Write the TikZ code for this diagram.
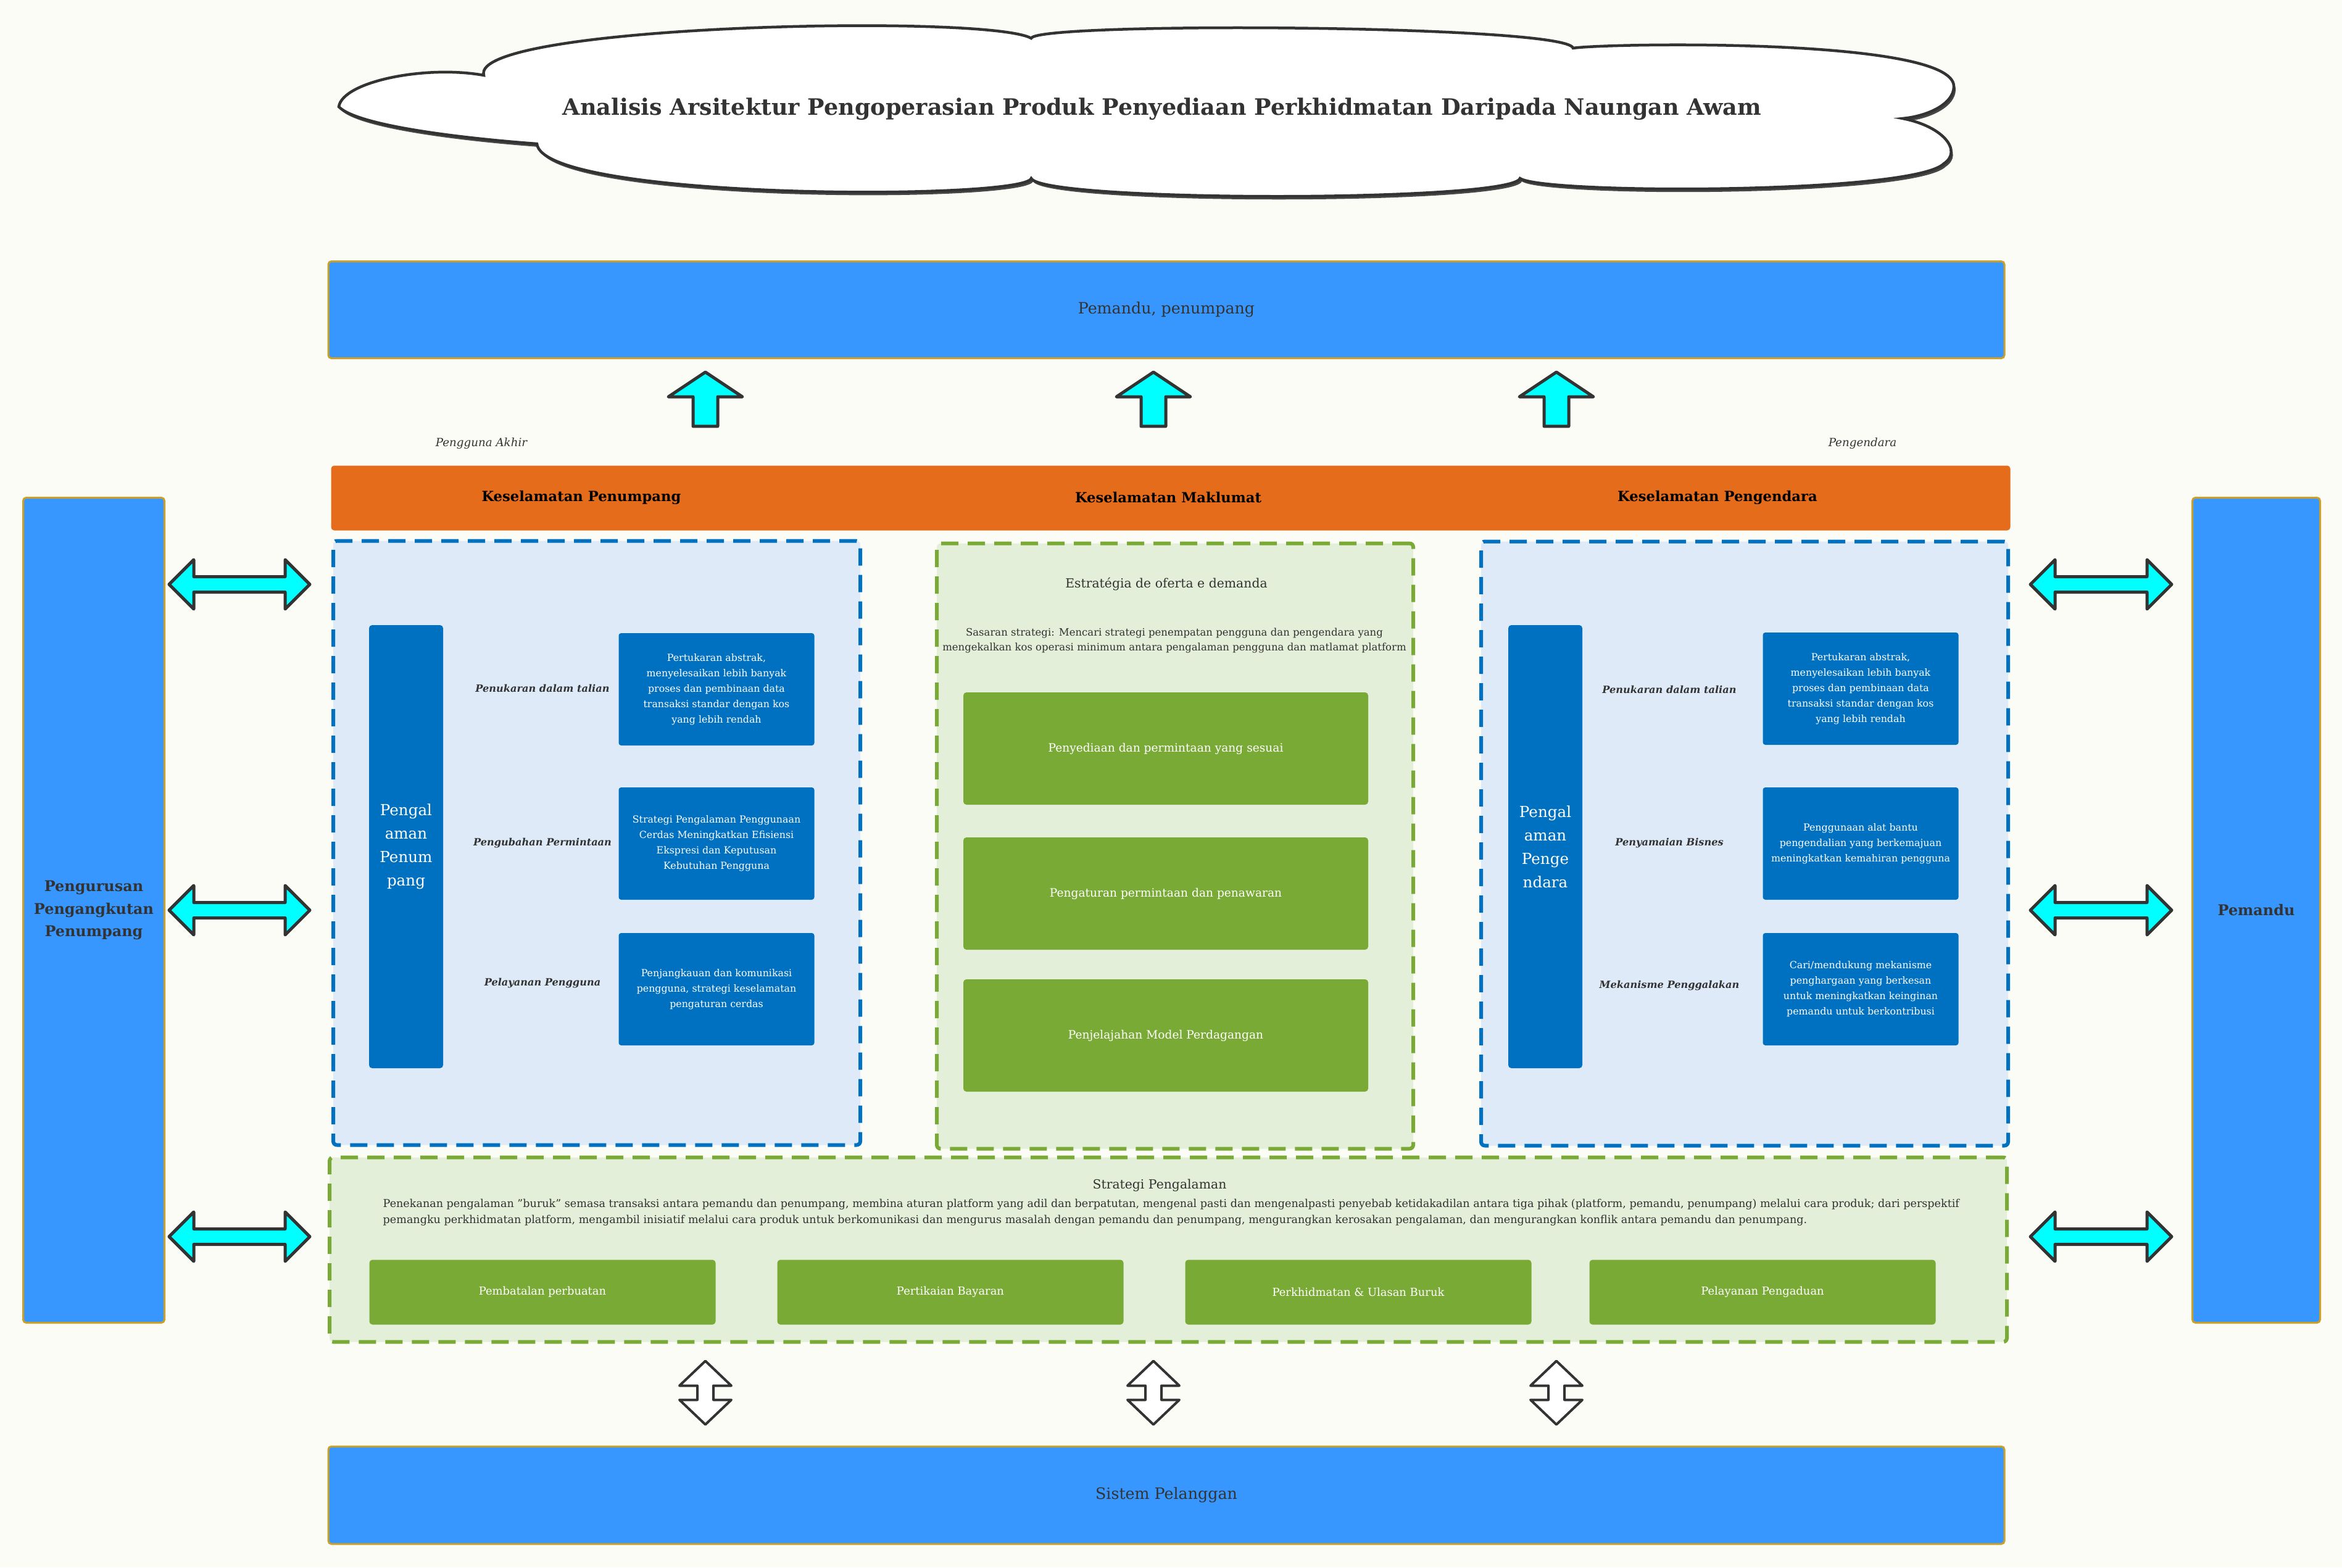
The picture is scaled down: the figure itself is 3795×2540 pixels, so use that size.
\documentclass[tikz,border=0pt]{standalone}
\usepackage{fontspec}
\setmainfont{DejaVu Serif}
\usepackage{xcolor}
\usetikzlibrary{calc, shadows}

\definecolor{bgpaper}{RGB}{252,252,247}
\definecolor{inkgray}{RGB}{51,51,51}
\definecolor{skyblue}{RGB}{55,151,255}
\definecolor{goldline}{RGB}{204,160,40}
\definecolor{orangeband}{RGB}{228,108,26}
\definecolor{deepblue}{RGB}{0,112,192}
\definecolor{paleblue}{RGB}{222,234,247}
\definecolor{leafgreen}{RGB}{122,170,54}
\definecolor{palegreen}{RGB}{227,239,217}
\definecolor{cyanfill}{RGB}{0,255,255}

% block arrows: tail/tip points in, drawn as outlined polygons
\newcommand\blockup[2]{%
  \draw[blockarrow] let \p1=(#1), \p2=(#2) in
    (\x1-2mm,\y1) -- (\x1-2mm,\y2-4mm) -- (\x1-6mm,\y2-4mm) -- (\x2,\y2)
    -- (\x1+6mm,\y2-4mm) -- (\x1+2mm,\y2-4mm) -- (\x1+2mm,\y1) -- cycle;}
\newcommand\blockhh[2]{%
  \draw[blockarrow] let \p1=(#1), \p2=(#2) in
    (\x1,\y1) -- (\x1+4mm,\y1+4mm) -- (\x1+4mm,\y1+1.25mm) -- (\x2-4mm,\y1+1.25mm)
    -- (\x2-4mm,\y1+4mm) -- (\x2,\y1) -- (\x2-4mm,\y1-4mm) -- (\x2-4mm,\y1-1.25mm)
    -- (\x1+4mm,\y1-1.25mm) -- (\x1+4mm,\y1-4mm) -- cycle;}
\newcommand\blockvv[2]{%
  \draw[hollowarrow] let \p1=(#1), \p2=(#2) in
    (\x1,\y1) -- (\x1+4.2mm,\y1-4mm) -- (\x1+1.3mm,\y1-4mm) -- (\x1+1.3mm,\y2+4mm)
    -- (\x1+4.2mm,\y2+4mm) -- (\x1,\y2) -- (\x1-4.2mm,\y2+4mm) -- (\x1-1.3mm,\y2+4mm)
    -- (\x1-1.3mm,\y1-4mm) -- (\x1-4.2mm,\y1-4mm) -- cycle;}

\begin{document}
\begin{tikzpicture}[
    x=0.1mm, y=-0.1mm,
    font=\fontsize{7}{9}\selectfont, text=inkgray,
    bigbox/.style={draw=goldline, line width=0.3mm, fill=skyblue, rounded corners=0.5mm, font=\fontsize{7.2}{9}\selectfont},
    sidebox/.style={bigbox, align=center, font=\bfseries\fontsize{6.8}{10.5}\selectfont},
    band/.style={fill=orangeband, rounded corners=0.5mm},
    bandlbl/.style={text=black, font=\bfseries\fontsize{6.45}{9}\selectfont},
    zoneblue/.style={draw=deepblue, fill=paleblue, line width=0.6mm, dash pattern=on 2.8mm off 1.5mm, rounded corners=0.6mm},
    zonegreen/.style={zoneblue, draw=leafgreen, fill=palegreen},
    expbar/.style={fill=deepblue, rounded corners=0.5mm, text=white, align=center, minimum width=12mm, minimum height=71.8mm, font=\fontsize{7}{10.8}\selectfont},
    tag/.style={font=\bfseries\itshape\fontsize{4.6}{6}\selectfont},
    usertag/.style={font=\itshape\fontsize{5.2}{6}\selectfont},
    infobox/.style={fill=deepblue, rounded corners=0.4mm, text=white, align=center, minimum width=31.7mm, minimum height=18.2mm, font=\fontsize{4.5}{7.1}\selectfont},
    leafbox/.style={fill=leafgreen, rounded corners=0.5mm, text=white, minimum width=65.6mm, minimum height=18.2mm, font=\fontsize{5.3}{7}\selectfont},
    smallleaf/.style={leafbox, minimum width=56.1mm, minimum height=10.5mm, font=\fontsize{5.1}{7}\selectfont},
    zonetitle/.style={font=\fontsize{5.8}{7}\selectfont},
    note/.style={align=center, inner sep=0pt, font=\fontsize{4.7}{6.9}\selectfont},
    blockarrow/.style={draw=inkgray, line width=0.5mm, fill=cyanfill, line join=round},
    hollowarrow/.style={blockarrow, line width=0.4mm, fill=white},
    cloudline/.style={draw=inkgray, line width=0.45mm, fill=white,
      drop shadow={shadow xshift=0.3mm, shadow yshift=-0.5mm, fill=inkgray, opacity=0.9}}
]

% Canvas
\fill[bgpaper] (0,0) rectangle (3795,2540);
\useasboundingbox (0,0) rectangle (3795,2540);

% Title cloud
\draw[cloudline] (549,173)
  .. controls (555,132) and (690,105) .. (784,122)
  .. controls (760,40) and (1600,22) .. (1671,62)
  .. controls (1680,35) and (2540,40) .. (2549,78)
  .. controls (2600,70) and (3166,60) .. (3166,140)
  .. controls (3166,168) and (3125,188) .. (3083,192)
  .. controls (3150,205) and (3180,245) .. (3150,265)
  .. controls (3100,315) and (2500,315) .. (2463,289)
  .. controls (2450,328) and (1690,328) .. (1671,289)
  .. controls (1660,325) and (880,325) .. (870,233)
  .. controls (760,225) and (580,205) .. (549,173) -- cycle;
\node[font=\bfseries\fontsize{10.4}{12}\selectfont] (title) at (1883,177) {Analisis Arsitektur Pengoperasian Produk Penyediaan Perkhidmatan Daripada Naungan Awam};

% Top bar and safety band
\node[bigbox, minimum width=271.6mm, minimum height=15.7mm] (drv) at (1890,502) {Pemandu, penumpang};
\node[usertag] (enduser) at (780,719) {Pengguna Akhir};
\node[usertag] (rider) at (3018,719) {Pengendara};
\node[band, minimum width=272.1mm, minimum height=10.5mm] (safety) at (1897,807) {};
\node[bandlbl] (sfp) at (942,806) {Keselamatan Penumpang};
\node[bandlbl] (sfm) at (1893,806) {Keselamatan Maklumat};
\node[bandlbl] (sfd) at (2783,806) {Keselamatan Pengendara};

% Zones
\node[zoneblue, minimum width=85.4mm, minimum height=97.9mm] (pbox) at (967,1366) {};
\node[zonegreen, minimum width=77.2mm, minimum height=98.1mm] (sbox) at (1904,1371) {};
\node[zoneblue, minimum width=85.4mm, minimum height=97.9mm] (dbox) at (2827,1367) {};
\node[zonegreen, minimum width=271.8mm, minimum height=29.9mm] (xbox) at (1893,2025) {};

% Side and bottom bars
\node[sidebox, minimum width=22.9mm, minimum height=133.7mm] (mgmt) at (152,1475) {Pengurusan\\Pengangkutan\\Penumpang};
\node[sidebox, minimum width=20.7mm, minimum height=133.7mm] (pmd) at (3656,1475) {Pemandu};
\node[bigbox, minimum width=271.6mm, minimum height=15.8mm] (cust) at (1890,2423) {Sistem Pelanggan};

% Passenger zone
\node[expbar] (pexp) at (658,1372) {Pengal\\aman\\Penum\\pang};
\node[tag] (pt1) at (879,1115) {Penukaran dalam talian};
\node[tag] (pt2) at (879,1366) {Pengubahan Permintaan};
\node[tag] (pt3) at (879,1593) {Pelayanan Pengguna};
\node[infobox] (pi1) at (1161,1117) {Pertukaran abstrak,\\menyelesaikan lebih banyak\\proses dan pembinaan data\\transaksi standar dengan kos\\yang lebih rendah};
\node[infobox] (pi2) at (1161,1367) {Strategi Pengalaman Penggunaan\\Cerdas Meningkatkan Efisiensi\\Ekspresi dan Keputusan\\Kebutuhan Pengguna};
\node[infobox] (pi3) at (1161,1603) {Penjangkauan dan komunikasi\\pengguna, strategi keselamatan\\pengaturan cerdas};

% Supply-demand zone
\node[zonetitle] (stitle) at (1890,947) {Estratégia de oferta e demanda};
\node[note] (snote) at (1903,1038) {Sasaran strategi: Mencari strategi penempatan pengguna dan pengendara yang\\mengekalkan kos operasi minimum antara pengalaman pengguna dan matlamat platform};
\node[leafbox] (s1) at (1889,1213) {Penyediaan dan permintaan yang sesuai};
\node[leafbox] (s2) at (1889,1448) {Pengaturan permintaan dan penawaran};
\node[leafbox] (s3) at (1889,1678) {Penjelajahan Model Perdagangan};

% Driver zone
\node[expbar] (dexp) at (2504,1372) {Pengal\\aman\\Penge\\ndara};
\node[tag] (dt1) at (2705,1117) {Penukaran dalam talian};
\node[tag] (dt2) at (2705,1366) {Penyamaian Bisnes};
\node[tag] (dt3) at (2705,1597) {Mekanisme Penggalakan};
\node[infobox] (di1) at (3015,1116) {Pertukaran abstrak,\\menyelesaikan lebih banyak\\proses dan pembinaan data\\transaksi standar dengan kos\\yang lebih rendah};
\node[infobox] (di2) at (3015,1367) {Penggunaan alat bantu\\pengendalian yang berkemajuan\\meningkatkan kemahiran pengguna};
\node[infobox] (di3) at (3015,1603) {Cari/mendukung mekanisme\\penghargaan yang berkesan\\untuk meningkatkan keinginan\\pemandu untuk berkontribusi};

% Experience zone
\node[zonetitle] (xtitle) at (1879,1921) {Strategi Pengalaman};
\node[note, align=left, anchor=west, font=\fontsize{5}{7.4}\selectfont] (xnote) at (620,1965) {Penekanan pengalaman \symbol{34}buruk\symbol{34} semasa transaksi antara pemandu dan penumpang, membina aturan platform yang adil dan berpatutan, mengenal pasti dan mengenalpasti penyebab ketidakadilan antara tiga pihak (platform, pemandu, penumpang) melalui cara produk; dari perspektif\\pemangku perkhidmatan platform, mengambil inisiatif melalui cara produk untuk berkomunikasi dan mengurus masalah dengan pemandu dan penumpang, mengurangkan kerosakan pengalaman, dan mengurangkan konflik antara pemandu dan penumpang.};
\node[smallleaf] (x1) at (879,2094) {Pembatalan perbuatan};
\node[smallleaf] (x2) at (1540,2094) {Pertikaian Bayaran};
\node[smallleaf] (x3) at (2201,2094) {Perkhidmatan \& Ulasan Buruk};
\node[smallleaf] (x4) at (2856,2094) {Pelayanan Pengaduan};

% Arrows
\coordinate (ua) at (1143,0);
\coordinate (ub) at (1869,0);
\coordinate (uc) at (2522,0);
\coordinate (ha) at (0,947);
\coordinate (hb) at (0,1475);
\coordinate (hc) at (0,2004);
\foreach \c in {ua,ub,uc} {
  \blockup{$(\c |- safety.north)+(0,-63)$}{$(\c |- drv.south)+(0,21)$}
  \blockvv{$(\c |- xbox.south)+(0,28)$}{$(\c |- cust.north)+(0,-34)$}
}
\blockhh{$(mgmt.east |- ha)+(6,0)$}{$(pbox.west |- ha)+(-35,0)$}
\blockhh{$(mgmt.east |- hb)+(6,0)$}{$(pbox.west |- hb)+(-35,0)$}
\blockhh{$(mgmt.east |- hc)+(6,0)$}{$(xbox.west |- hc)+(-29,0)$}
\blockhh{$(dbox.east |- ha)+(33,0)$}{$(pmd.west |- ha)+(-32,0)$}
\blockhh{$(dbox.east |- hb)+(33,0)$}{$(pmd.west |- hb)+(-32,0)$}
\blockhh{$(xbox.east |- hc)+(35,0)$}{$(pmd.west |- hc)+(-32,0)$}

\end{tikzpicture}
\end{document}
